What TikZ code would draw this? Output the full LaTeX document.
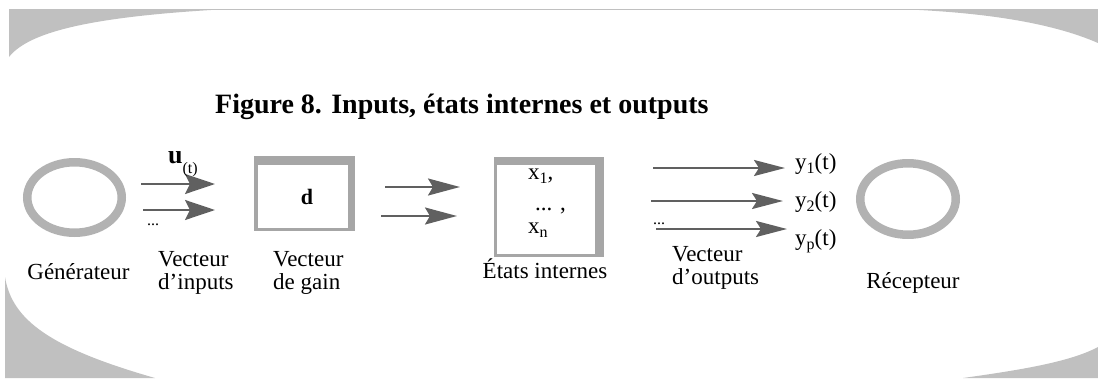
\documentclass[tikz,border=0pt]{standalone}
\usepackage{fontspec}
\setmainfont{Liberation Serif}
\usetikzlibrary{arrows.meta,shapes.geometric}
\definecolor{cornergray}{HTML}{C0C0C0}
\definecolor{ringgray}{HTML}{B2B2B2}
\definecolor{boxgray}{HTML}{A6A6A6}
\definecolor{arrowgray}{HTML}{606060}
\newcommand\lblfont{\fontsize{23}{23}\selectfont}
\newcommand\subfont{\fontsize{16}{16}\selectfont}
\begin{document}
\begin{tikzpicture}[x=1pt,y=-1pt,
  ring/.style={ellipse, draw=ringgray, line width=8.5pt, inner sep=0pt},
  flowin/.style={draw=arrowgray, line width=2.3pt, -{Stealth[length=30pt,width=20pt,inset=5pt]}},
  flowout/.style={draw=arrowgray, line width=2.3pt, -{Stealth[length=31pt,width=16pt,inset=5pt]}},
  innerbox/.style={fill=white, inner sep=0pt},
  lbl/.style={font=\lblfont, inner sep=0pt},
]
\useasboundingbox (0,0) rectangle (1098,378);
% frame corners
\fill[cornergray] (9,9) -- (9,57) .. controls (30,30) and (100,16) .. (228,9) -- cycle;
\fill[cornergray] (897,9) .. controls (980,12) and (1050,22) .. (1098,43) -- (1098,9) -- cycle;
\fill[cornergray] (5,277) .. controls (12,320) and (50,348) .. (155,378) -- (5,378) -- cycle;
\fill[cornergray] (963,378) .. controls (1020,370) and (1070,362) .. (1098,347) -- (1098,378) -- cycle;
\draw[cornergray, line width=1pt] (9,9) -- (1098,9);
% title
\node[anchor=base west, inner sep=0pt, font=\fontsize{28}{28}\selectfont\bfseries] (title) at (215,113) {Figure 8. Inputs, états internes et outputs};
% generator and receiver
\node[ring, minimum width=94.5pt, minimum height=70.5pt] (gen) at (74.5,197.5) {};
\node[ring, minimum width=95.5pt, minimum height=71.5pt] (rec) at (908,199) {};
% gain box
\fill[boxgray] (254,156) rectangle (355,231);
\node[innerbox, minimum width=90pt, minimum height=63pt, font=\fontsize{22}{22}\selectfont\bfseries] (gain) at (303,196.5) {\hspace{8pt}d};
% state box
\fill[boxgray] (494,157) rectangle (604,257);
\node[innerbox, minimum width=98pt, minimum height=89pt] (state) at (546,209.5) {};
\node[lbl, anchor=base west, align=left] (statetxt) at (528,233) {x\raisebox{-4pt}{\subfont 1},\\[8pt]\hspace{7pt}... ,\\[0pt]x\raisebox{-4pt}{\subfont n}};
% input arrows
\coordinate (i1s) at (141,184); \coordinate (i1e) at (215,184);
\coordinate (i2s) at (143,210); \coordinate (i2e) at (215,210);
\draw[flowin] (i1s) -- (i1e);
\draw[flowin] (i2s) -- (i2e);
\node[anchor=base west, inner sep=0pt] (ulbl) at (168,163) {\fontsize{26}{26}\selectfont\bfseries u\raisebox{-10pt}{\fontsize{16}{16}\selectfont\mdseries (t)}};
\node[anchor=base west, inner sep=0pt, font=\fontsize{16}{16}\selectfont] (idots) at (147,225) {...};
% middle arrows
\coordinate (m1s) at (385,187); \coordinate (m1e) at (460,187);
\coordinate (m2s) at (381,216); \coordinate (m2e) at (457,216);
\draw[flowin, -{Stealth[length=32pt,width=17pt,inset=5pt]}] (m1s) -- (m1e);
\draw[flowin, -{Stealth[length=32pt,width=17pt,inset=5pt]}] (m2s) -- (m2e);
% output arrows
\coordinate (o1s) at (653,168); \coordinate (o1e) at (785,168);
\coordinate (o2s) at (651,201); \coordinate (o2e) at (783,201);
\coordinate (o3s) at (656,229); \coordinate (o3e) at (787,229);
\draw[flowout] (o1s) -- (o1e);
\draw[flowout] (o2s) -- (o2e);
\draw[flowout] (o3s) -- (o3e);
\node[anchor=base west, inner sep=0pt, font=\fontsize{16}{16}\selectfont] (odots) at (653,224) {...};
\node[lbl, anchor=base west] (y1) at (795,169) {y\raisebox{-4pt}{\subfont 1}(t)};
\node[lbl, anchor=base west] (y2) at (795,207.5) {y\raisebox{-4pt}{\subfont 2}(t)};
\node[lbl, anchor=base west] (yp) at (795,245.5) {y\raisebox{-4pt}{\subfont p}(t)};
% labels
\node[lbl, anchor=base] (lgen) at (78.5,279) {Générateur};
\node[lbl, anchor=base west, align=left] (lin) at (158,289) {Vecteur\\d’inputs};
\node[lbl, anchor=base west, align=left] (lgain) at (273,289) {Vecteur\\de gain};
\node[lbl, anchor=base] (lstate) at (545,278) {États internes};
\node[lbl, anchor=base west, align=left] (lout) at (672,284) {Vecteur\\d’outputs};
\node[lbl, anchor=base] (lrec) at (913,288) {Récepteur};
\end{tikzpicture}
\end{document}
